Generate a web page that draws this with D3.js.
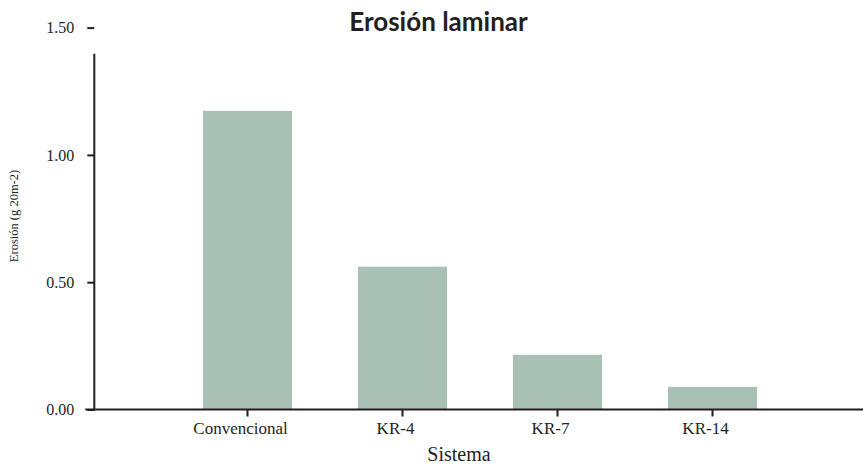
<!DOCTYPE html>
<html>
<head>
<meta charset="utf-8">
<script src="https://cdn.jsdelivr.net/npm/d3@7"></script>
<style>
  html, body { margin: 0; padding: 0; background: #fff; }
  svg { display: block; }
</style>
</head>
<body>
<svg id="chart" width="864" height="467"></svg>
<script>
const categories = ["Convencional", "KR-4", "KR-7", "KR-14"];
const values = [1.173, 0.561, 0.215, 0.089];
const yTicks = [0, 0.5, 1.0, 1.5];
const yTickLabels = ["0.00", "0.50", "1.00", "1.50"];
const titleText = "Erosión laminar";
const xTitle = "Sistema";
const yTitle = "Erosión (g 20m-2)";

const svg = d3.select("#chart");
const W = 864, H = 467;
const axisX = 94.3, baseY = 409.5;
const ink = "#231f20";
const serif = "'Liberation Serif', 'Times New Roman', serif";

const y = d3.scaleLinear().domain([0, 1.5]).range([baseY, 27.6]);
const x = d3.scaleBand().domain(categories).range([170, 790])
  .paddingInner(0.425).paddingOuter(0.2125);

// bars
svg.append("g").selectAll("rect").data(values).join("rect")
  .attr("x", (d, i) => x(categories[i]))
  .attr("y", d => y(d))
  .attr("width", x.bandwidth())
  .attr("height", d => y(0) - y(d))
  .attr("fill", "#a9c1b5");

// y axis
const yAxis = svg.append("g").attr("transform", `translate(${axisX},0)`)
  .call(d3.axisLeft(y).tickValues(yTicks).tickFormat((d, i) => yTickLabels[i])
    .tickSize(7).tickPadding(13));
yAxis.select(".domain").remove();
yAxis.selectAll(".tick line").attr("stroke", ink).attr("stroke-width", 2);
yAxis.selectAll(".tick text").attr("fill", ink).style("font-family", serif).style("font-size", "16px");
svg.append("line")
  .attr("x1", axisX).attr("x2", axisX)
  .attr("y1", y(1.397)).attr("y2", baseY + 1)
  .attr("stroke", ink).attr("stroke-width", 2);

// x axis
const xAxis = svg.append("g").attr("transform", `translate(0,${baseY})`)
  .call(d3.axisBottom(x).tickSize(7).tickPadding(5));
xAxis.select(".domain").remove();
xAxis.selectAll(".tick line").attr("stroke", ink).attr("stroke-width", 2);
xAxis.selectAll(".tick text").attr("fill", ink).attr("dx", -7)
  .style("font-family", serif).style("font-size", "17px");
svg.append("line")
  .attr("x1", axisX - 9).attr("x2", W - 1)
  .attr("y1", baseY).attr("y2", baseY)
  .attr("stroke", ink).attr("stroke-width", 2);

// titles
svg.append("text").text(titleText)
  .attr("x", 438.5).attr("y", 31).attr("text-anchor", "middle")
  .attr("fill", ink)
  .style("font-family", "Lato, 'Open Sans', sans-serif")
  .style("font-weight", "bold").style("font-size", "26px");

svg.append("text").text(xTitle)
  .attr("x", 459).attr("y", 461).attr("text-anchor", "middle")
  .attr("fill", ink).style("font-family", serif).style("font-size", "20px");

svg.append("text").text(yTitle)
  .attr("transform", "translate(18,216) rotate(-90)")
  .attr("text-anchor", "middle")
  .attr("fill", ink).style("font-family", serif).style("font-size", "12.5px");
</script>
</body>
</html>
